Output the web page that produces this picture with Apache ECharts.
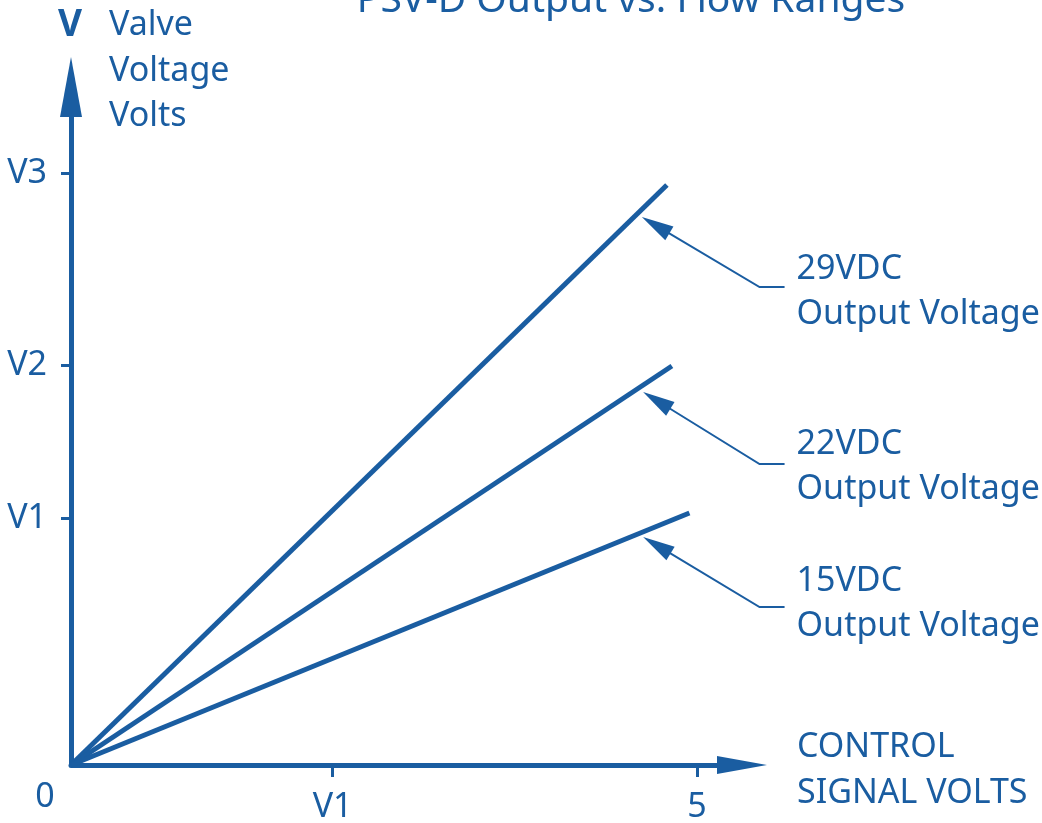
<!DOCTYPE html>
<html>
<head>
<meta charset="utf-8">
<title>PSV-D Output vs. Flow Ranges</title>
<script src="https://cdn.jsdelivr.net/npm/echarts@6/dist/echarts.min.js"></script>
<style>
  html, body { margin: 0; padding: 0; background: #ffffff; }
  #chart { width: 1042px; height: 823px; }
</style>
</head>
<body>
<div id="chart"></div>
<script>
const BLUE = '#1a5da1'
const FONT = '"Noto Sans", "Open Sans", sans-serif'

// axis units: V1..V3 are symbolic levels, only their spacing matters
const xTickValues = [0, 2.09, 5]
const xTickLabels = ['0', 'V1', '5']
const xTickMarks = [2.09, 5]
const yTickValues = [2.47, 4.0, 5.92]
const yTickLabels = ['V1', 'V2', 'V3']

const seriesNames = ['29VDC', '22VDC', '15VDC']
const lineStartX = [0, 0, 0]
const lineStartY = [0, 0, 0]
const lineEndX = [4.76, 4.80, 4.94]
const lineEndY = [5.80, 3.99, 2.52]

// callout arrows: tip next to the line -> elbow -> end of the leader
const calloutTip = [[4.56, 5.48], [4.57, 3.73], [4.57, 2.28]]
const calloutElbow = [[5.50, 4.78], [5.50, 3.01], [5.50, 1.58]]
const calloutEnd = [[5.70, 4.78], [5.70, 3.01], [5.70, 1.58]]

// small vertical nudge of each callout caption (px)
const captionNudge = [5, 3, -3]

const X_MAX = 5.36
const Y_MAX = 6.78

const chart = echarts.init(document.getElementById('chart'), null, { renderer: 'canvas' })

const labelFor = (values, labels, v) => {
  const i = values.findIndex(x => Math.abs(x - v) < 1e-6)
  return i < 0 ? '' : labels[i]
}

const option = {
  animation: false,
  backgroundColor: '#ffffff',
  textStyle: { fontFamily: FONT },
  grid: { left: 71, right: 300, top: 87, bottom: 58, containLabel: false, outerBoundsMode: 'none' },
  xAxis: {
    type: 'value',
    min: 0,
    max: X_MAX,
    axisLine: {
      show: true,
      onZero: false,
      symbol: ['none', 'triangle'],
      symbolSize: [18, 50],
      lineStyle: { color: BLUE, width: 5 }
    },
    axisTick: {
      show: true,
      customValues: xTickMarks,
      length: 12,
      lineStyle: { color: BLUE, width: 3 }
    },
    axisLabel: {
      customValues: xTickValues,
      margin: 15,
      color: BLUE,
      fontFamily: FONT,
      fontSize: 34,
      formatter: function (v) {
        const text = labelFor(xTickValues, xTickLabels, v)
        return text === '0' ? '{z|0}' : `{n|${text}}`
      },
      rich: {
        n: { color: BLUE, fontFamily: FONT, fontSize: 34, padding: [10, 0, 0, 0] },
        z: { color: BLUE, fontFamily: FONT, fontSize: 34, padding: [0, 52, 0, 0] }
      }
    },
    splitLine: { show: false }
  },
  yAxis: {
    type: 'value',
    min: 0,
    max: Y_MAX,
    axisLine: {
      show: true,
      onZero: false,
      symbol: ['none', 'triangle'],
      symbolSize: [22, 60],
      lineStyle: { color: BLUE, width: 5 }
    },
    axisTick: {
      show: true,
      customValues: yTickValues,
      length: 10,
      lineStyle: { color: BLUE, width: 3 }
    },
    axisLabel: {
      customValues: yTickValues,
      margin: 24,
      color: BLUE,
      fontFamily: FONT,
      fontSize: 34,
      formatter: v => labelFor(yTickValues, yTickLabels, v)
    },
    splitLine: { show: false }
  },
  series: seriesNames.map((name, i) => ({
    name: name,
    type: 'line',
    data: [[lineStartX[i], lineStartY[i]], [lineEndX[i], lineEndY[i]]],
    symbol: 'none',
    lineStyle: { color: BLUE, width: 5 },
    z: 3
  }))
}

chart.setOption(option)

// callouts and free text, positioned through the grid's own scales
const toPx = pt => chart.convertToPixel({ gridIndex: 0 }, pt)
const graphics = []

graphics.push({
  type: 'text', x: 631, y: 1,
  style: { text: 'PSV-D Output vs. Flow Ranges', fill: BLUE, fontFamily: FONT, fontSize: 39, textAlign: 'center', textVerticalAlign: 'middle' }
})
graphics.push({
  type: 'text', x: 70, y: 25,
  style: { text: 'V', fill: BLUE, font: 'bold 37px "Noto Sans", sans-serif', textAlign: 'center', textVerticalAlign: 'middle' }
})
graphics.push({
  type: 'text', x: 109, y: 71,
  style: { text: 'Valve\nVoltage\nVolts', fill: BLUE, fontFamily: FONT, fontSize: 34, lineHeight: 45.5, textAlign: 'left', textVerticalAlign: 'middle' }
})

// x axis caption, to the right of the arrow head
const xEnd = toPx([X_MAX, 0])
graphics.push({
  type: 'text', x: xEnd[0] + 55, y: xEnd[1] + 5,
  style: { text: 'CONTROL\nSIGNAL VOLTS', fill: BLUE, fontFamily: FONT, fontSize: 34, lineHeight: 46, textAlign: 'left', textVerticalAlign: 'middle' }
})

seriesNames.forEach((name, i) => {
  const tip = toPx(calloutTip[i])
  const elbow = toPx(calloutElbow[i])
  const end = toPx(calloutEnd[i])
  const dx = elbow[0] - tip[0]
  const dy = elbow[1] - tip[1]
  const len = Math.sqrt(dx * dx + dy * dy)
  const ux = dx / len
  const uy = dy / len
  const headLen = 32
  const headHalf = 8
  const bx = tip[0] + ux * headLen
  const by = tip[1] + uy * headLen

  graphics.push({
    type: 'polyline',
    shape: { points: [[bx - ux * 4, by - uy * 4], elbow, end] },
    style: { stroke: BLUE, lineWidth: 2, fill: null }
  })
  graphics.push({
    type: 'polygon',
    shape: { points: [tip, [bx - uy * headHalf, by + ux * headHalf], [bx + uy * headHalf, by - ux * headHalf]] },
    style: { fill: BLUE }
  })
  graphics.push({
    type: 'text', x: end[0] + 12, y: end[1] + captionNudge[i],
    style: { text: `${name}\nOutput Voltage`, fill: BLUE, fontFamily: FONT, fontSize: 34, lineHeight: 45, textAlign: 'left', textVerticalAlign: 'middle' }
  })
})

chart.setOption({ graphic: graphics })

window.addEventListener('resize', () => chart.resize())
</script>
</body>
</html>
